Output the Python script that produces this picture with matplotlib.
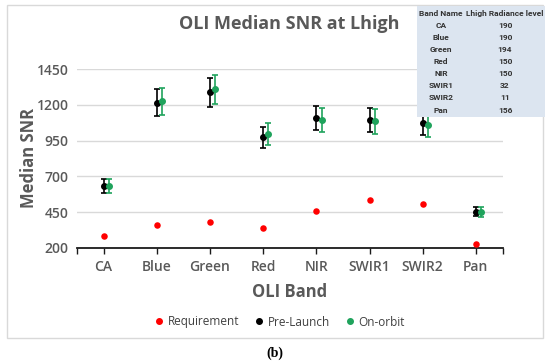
import numpy as np
import matplotlib
matplotlib.use("Agg")
import matplotlib.pyplot as plt
from matplotlib.patches import Rectangle
from matplotlib.lines import Line2D

plt.rcParams['font.family'] = ['Open Sans', 'DejaVu Sans']

bands = ["CA", "Blue", "Green", "Red", "NIR", "SWIR1", "SWIR2", "Pan"]
requirement = [284, 356, 382, 335, 457, 534, 504, 228]
prelaunch = [632, 1216, 1289, 973, 1109, 1092, 1076, 452]
prelaunch_err = [51, 93, 100, 76, 85, 84, 84, 33]
onorbit = [632, 1226, 1310, 999, 1095, 1085, 1062, 452]
onorbit_err = [49, 95, 101, 78, 85, 86, 85, 35]
radiance = [190, 190, 194, 150, 150, 32, 11, 156]
yticks = [200, 450, 700, 950, 1200, 1450]

grey = '#595959'
green = '#1fa35c'

fig = plt.figure(figsize=(5.5, 3.64), dpi=100)
ax = fig.add_axes([77/550, 1-247.7/364, (502.5-77)/550, (247.7-69.3)/364])

x = np.arange(len(bands))
ax.scatter(x, requirement, s=22, color='#ff0000', zorder=3, linewidths=0)
ax.errorbar(x, prelaunch, yerr=prelaunch_err, fmt='o', color='black', ms=4,
            capsize=2.5, elinewidth=1.2, capthick=1.2, zorder=4)
ax.errorbar(x + 0.1, onorbit, yerr=onorbit_err, fmt='o', color=green, ms=4,
            capsize=2.5, elinewidth=1.2, capthick=1.2, zorder=4)

ax.set_xlim(-0.5, 7.5)
ax.set_ylim(200, 1450)
ax.set_yticks(yticks)
ax.set_xticks(x)
ax.set_xticklabels(bands)
ax.set_xticks([-0.5, 7.5], minor=True)
ax.grid(axis='y', color='#d9d9d9', lw=1)
ax.set_axisbelow(True)
for s in ['top', 'right', 'left']:
    ax.spines[s].set_visible(False)
ax.spines['bottom'].set_color('#1a1a1a')
ax.spines['bottom'].set_linewidth(1.3)
ax.tick_params(axis='y', length=0, labelsize=10, labelcolor=grey, pad=6)
ax.tick_params(axis='x', which='both', length=4, width=1, color='#1a1a1a',
               labelsize=10, labelcolor=grey, pad=5)
for lab in ax.get_xticklabels() + ax.get_yticklabels():
    lab.set_fontweight('semibold')

ax.set_ylabel("Median SNR", fontsize=12, fontweight='bold', color=grey, labelpad=-1)
ax.set_xlabel("OLI Band", fontsize=12, fontweight='bold', color=grey, labelpad=6)
fig.text(289.5/550, 1-24/364, "OLI Median SNR at Lhigh", ha='center', va='center',
         fontsize=13, fontweight='bold', color=grey)

handles = [Line2D([], [], ls='', marker='o', ms=4, color=c) for c in ['#ff0000', 'black', green]]
leg = fig.legend(handles, ["Requirement", "Pre-Launch", "On-orbit"], loc='center',
                 bbox_to_anchor=(279/550, 1-322/364), ncol=3, frameon=False,
                 fontsize=8.5, handletextpad=0.2, columnspacing=1.2, handlelength=1)
for t in leg.get_texts():
    t.set_color('#404040')

# outer chart border
fig.patches.append(Rectangle((7/550, 1-338/364), 536/550, 333/364, transform=fig.transFigure,
                             fill=False, edgecolor='#d9d9d9', lw=1))

# table of Lhigh radiance levels (drawn over the chart, top right)
fig.patches.append(Rectangle((417/550, 1-117/364), (545-417)/550, (117-6)/364,
                             transform=fig.transFigure, facecolor='#dce5f0',
                             edgecolor='none', zorder=5))
tkw = dict(ha='center', va='center', fontsize=6, fontweight='bold', color='#333333',
           family=['Roboto', 'DejaVu Sans'], zorder=6)
row_y = 13.3
fig.text(441/550, 1-row_y/364, "Band Name", **tkw)
fig.text(505/550, 1-row_y/364, "Lhigh Radiance level", **tkw)
for b, r in zip(bands, radiance):
    row_y += 12.1
    fig.text(441/550, 1-row_y/364, b, **tkw)
    fig.text(505/550, 1-row_y/364, str(r), **tkw)

fig.text(275/550, 1-353/364, "(b)", ha='center', va='center', fontsize=10,
         fontweight='bold', family='Liberation Serif', color='black')

fig.savefig("out.png", dpi=100)
